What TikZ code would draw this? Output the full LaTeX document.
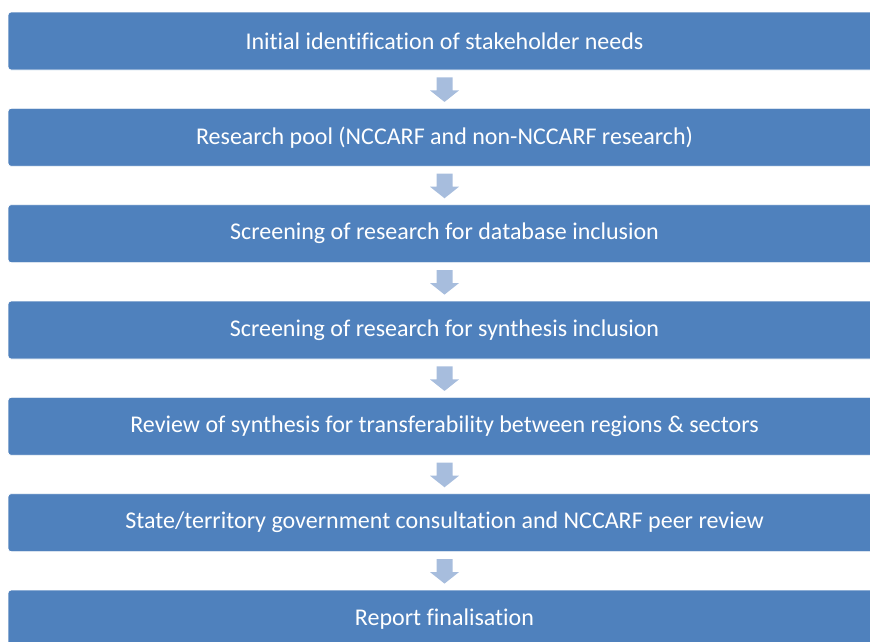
\documentclass[tikz,border=0pt]{standalone}
\usepackage{fontspec}
\setmainfont[Ligatures=NoCommon]{Carlito}
\usetikzlibrary{calc}
\definecolor{boxblue}{HTML}{4F81BD}
\definecolor{arrowblue}{HTML}{A7BDDD}
\newcommand\stagearrow[2]{%
  \fill[arrowfill] ($(#1.south)+(-8,7)$) -- ($(#1.south)+(8,7)$) -- ($(#1.south)+(8,20)$) -- ($(#1.south)+(14.5,20)$)
    -- ($(#2.north)+(0,-6)$) -- ($(#1.south)+(-14.5,20)$) -- ($(#1.south)+(-8,20)$) -- cycle;}
\begin{document}
\begin{tikzpicture}[x=1pt,y=-1pt,
  stagebox/.style={rectangle, rounded corners=3pt, fill=boxblue, draw=white, line width=0.8pt,
    minimum width=873pt, minimum height=58pt, inner sep=0pt, text=white,
    font=\fontsize{24}{28}\selectfont},
  arrowfill/.style={fill=arrowblue}]
\useasboundingbox (0,0) rectangle (870,641);
\clip (0,0) rectangle (870,641);
\node[stagebox] (s1) at (444.5,41) {Initial identification of stakeholder needs};
\node[stagebox] (s2) at (444.5,137.33) {Research pool (NCCARF and non-NCCARF research)};
\node[stagebox] (s3) at (444.5,233.67) {Screening of research for database inclusion};
\node[stagebox] (s4) at (444.5,330) {Screening of research for synthesis inclusion};
\node[stagebox] (s5) at (444.5,426.33) {Review of synthesis for transferability between regions \& sectors};
\node[stagebox] (s6) at (444.5,522.67) {State/territory government consultation and NCCARF peer review};
\node[stagebox] (s7) at (444.5,619) {Report finalisation};
\stagearrow{s1}{s2}
\stagearrow{s2}{s3}
\stagearrow{s3}{s4}
\stagearrow{s4}{s5}
\stagearrow{s5}{s6}
\stagearrow{s6}{s7}
\end{tikzpicture}
\end{document}
